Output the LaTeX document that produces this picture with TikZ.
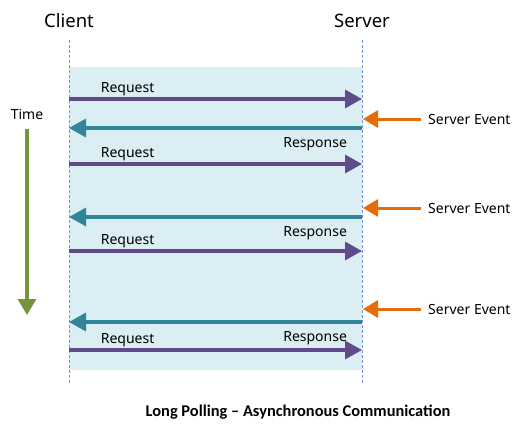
\documentclass[tikz,border=0pt]{standalone}
\usepackage{fontspec}
\setmainfont{Noto Sans}
\newfontfamily\titlefont{Carlito}
\usetikzlibrary{arrows.meta,positioning}

\definecolor{reqcol}{RGB}{96,74,138}
\definecolor{respcol}{RGB}{49,133,155}
\definecolor{eventcol}{RGB}{228,108,10}
\definecolor{timecol}{RGB}{119,147,60}
\definecolor{bgcol}{RGB}{218,238,243}
\definecolor{lifecol}{RGB}{110,150,210}

\tikzset{
  msg/.style={line width=3.2pt,-{Triangle[length=17pt,width=18pt]}},
  request/.style={msg,reqcol},
  response/.style={msg,respcol},
  event/.style={msg,eventcol,line width=3pt,-{Triangle[length=15pt,width=17pt]}},
  lifeline/.style={lifecol,line width=0.7pt,dash pattern=on 3pt off 2pt},
  lbl/.style={font=\fontsize{14}{16}\selectfont,text=black}
}

\begin{document}
\begin{tikzpicture}[x=1pt,y=-1pt]
\useasboundingbox (0,0) rectangle (529,432);
% shaded polling window
\fill[bgcol] (69,67) rectangle (362,370);

% actors and lifelines
\node[font=\fontsize{18.5}{22}\selectfont] (client) at (69,21) {Client};
\node[font=\fontsize{18.5}{22}\selectfont] (server) at (362,21) {Server};
\coordinate (ctop) at (69,40);
\coordinate (cbot) at (69,383);
\coordinate (stop) at (362,40);
\coordinate (sbot) at (362,383);
\draw[lifeline] (ctop) -- (cbot);
\draw[lifeline] (stop) -- (sbot);

% requests
\foreach \i/\y in {1/99,2/164,3/251,4/350}{
  \coordinate (rc\i) at (69,\y);
  \coordinate (rs\i) at (362,\y);
  \draw[request] (rc\i) -- node[lbl,pos=0.2,above,yshift=-1.5pt] {Request} (rs\i);
}

% responses
\foreach \i/\y in {1/128,2/217,3/322}{
  \coordinate (pc\i) at (69,\y);
  \coordinate (ps\i) at (362,\y);
  \draw[response] (ps\i) -- node[lbl,pos=0.16,below,yshift=-4.5pt] {Response} (pc\i);
}

% server events
\foreach \i/\y in {1/119,2/208,3/309}{
  \coordinate (es\i) at (363,\y);
  \node[lbl,anchor=west,inner sep=0pt] (ev\i) at (428,\y) {Server Event};
  \draw[event,shorten <=7pt] (ev\i.west) -- (es\i);
}

% time axis
\node[lbl] (time) at (27,114) {Time};
\coordinate (tend) at (27,315);
\draw[timecol,line width=3.2pt,-{Triangle[length=16pt,width=18pt]},shorten <=6pt] (time.south) -- (tend);

\node[font=\titlefont\bfseries\fontsize{16.4}{19}\selectfont] (title) at (298,412) {Long Polling – Asynchronous Communication};
\end{tikzpicture}
\end{document}
